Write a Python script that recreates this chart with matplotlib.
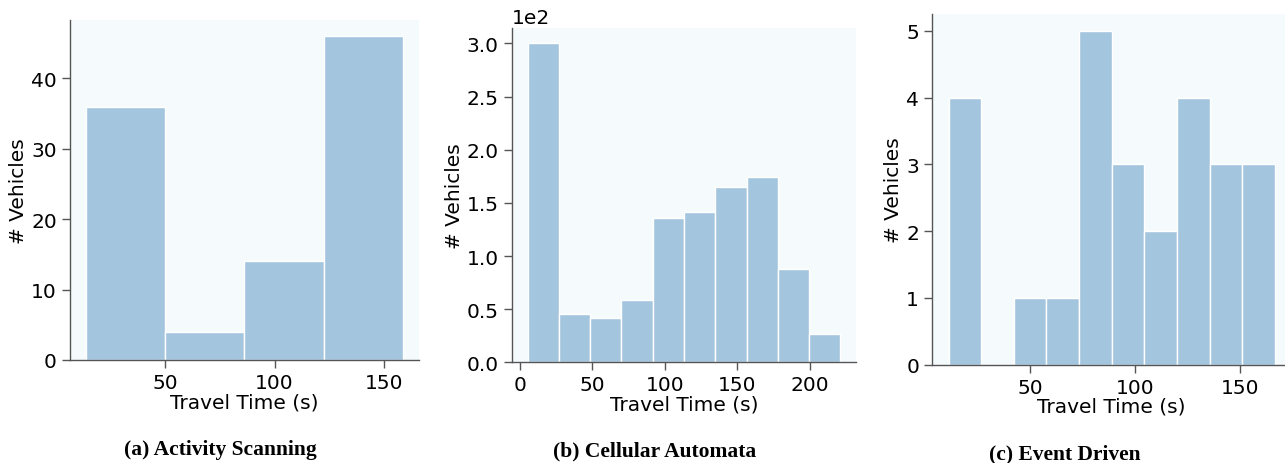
import numpy as np
import matplotlib
matplotlib.use("Agg")
import matplotlib.pyplot as plt

# histogram data
as_edges = [13.8, 50.0, 86.2, 122.5, 158.7]
as_counts = [36, 4, 14, 46]

ca_edges = [5.5, 27.0, 48.6, 70.1, 91.7, 113.2, 134.7, 156.3, 177.8, 199.4, 220.9]
ca_counts = [300, 45, 42, 59, 136, 141, 165, 174, 88, 27]

ed_edges = [11.2, 26.7, 42.2, 57.7, 73.2, 88.8, 104.3, 119.8, 135.3, 150.8, 166.3]
ed_counts = [4, 0, 1, 1, 5, 3, 2, 4, 3, 3]

captions = ["(a) Activity Scanning", "(b) Cellular Automata", "(c) Event Driven"]

bar_color = "#a3c5de"
bg_color = "#f5fbfc"
spine_color = "#555555"

plt.rcParams["font.family"] = "DejaVu Sans"
plt.rcParams["font.size"] = 14.5

W, H = 1285, 464
fig = plt.figure(figsize=(W / 100, H / 100), dpi=100)

def px_axes(left, right, top, bottom):
    return fig.add_axes([left / W, (H - bottom) / H, (right - left) / W, (bottom - top) / H])

boxes = [(70, 419, 21, 361), (512, 856, 28.5, 363.3), (932.3, 1291, 15, 365.7)]
data = [(as_edges, as_counts), (ca_edges, ca_counts), (ed_edges, ed_counts)]

axes = []
for box, (edges, counts) in zip(boxes, data):
    ax = px_axes(*box)
    edges = np.array(edges)
    centers = (edges[:-1] + edges[1:]) / 2
    ax.hist(centers, bins=edges, weights=counts, color=bar_color,
            edgecolor="white", linewidth=1)
    ax.set_facecolor(bg_color)
    for s in ["top", "right"]:
        ax.spines[s].set_visible(False)
    for s in ["left", "bottom"]:
        ax.spines[s].set_color(spine_color)
        ax.spines[s].set_linewidth(1)
    ax.tick_params(length=6, width=1, color=spine_color, labelsize=14.5)
    ax.set_xlabel("Travel Time (s)", fontsize=14.5, labelpad=0)
    ax.set_ylabel("# Vehicles", fontsize=14.5, labelpad=2)
    axes.append(ax)

axes[0].set_xticks([50, 100, 150])
axes[0].set_yticks([0, 10, 20, 30, 40])
axes[1].set_xticks([0, 50, 100, 150, 200])
axes[1].ticklabel_format(axis="y", style="sci", scilimits=(0, 0))
axes[1].yaxis.get_offset_text().set_fontsize(14.5)
axes[2].set_xticks([50, 100, 150])
axes[2].set_yticks([0, 1, 2, 3, 4, 5])

# captions under each panel (baseline positions in pixels)
cap_pos = [(220, 455), (655, 456.5), (1065, 459)]
for (x, y), txt in zip(cap_pos, captions):
    fig.text(x / W, (H - y) / H, txt, ha="center", va="baseline",
             fontsize=15.5, fontweight="bold", family="Liberation Serif")

fig.savefig("out.png", dpi=100)
